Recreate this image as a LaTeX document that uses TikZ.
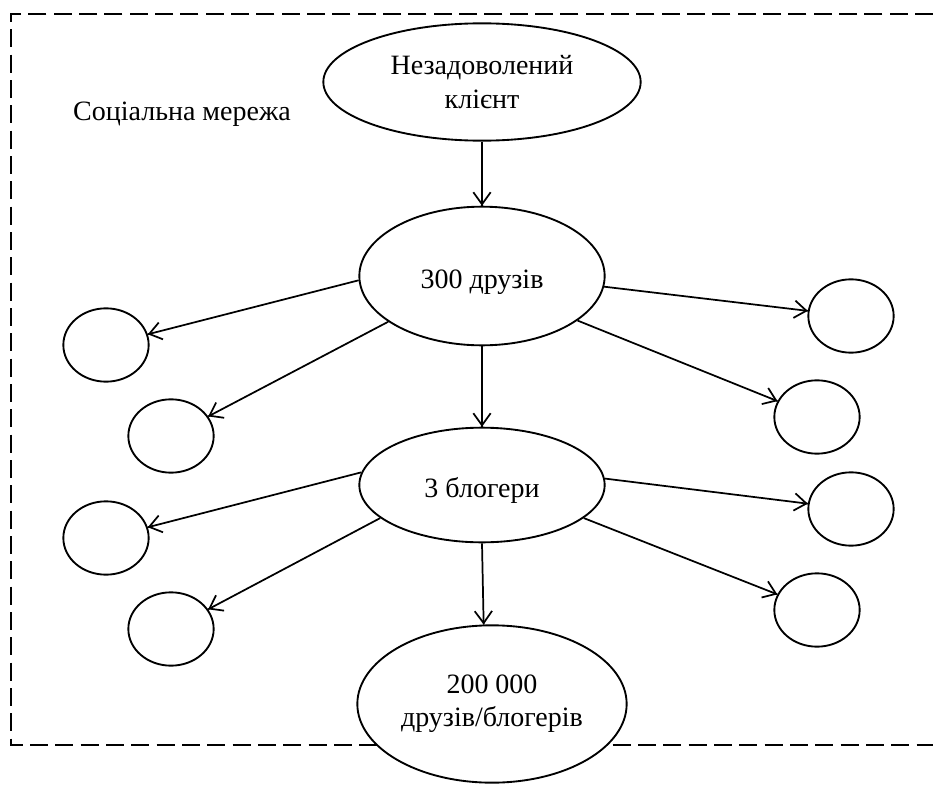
\documentclass[tikz,border=0pt]{standalone}
\usepackage{fontspec}
\setmainfont{Liberation Serif}
\usetikzlibrary{arrows.meta,
                decorations.markings,
                shapes.geometric}

\begin{document}
\begin{tikzpicture}[x=0.75pt, y=-0.75pt,
       decoration = {markings,
                     mark=at position 1 with {\arrow{Straight Barb[length=9pt, width=13pt]}}},
      oval/.style 2 args = {ellipse, draw, fill=white, line width=1.4pt, inner sep=0pt,
                     minimum width=#1, minimum height=#2, align=center,
                     font=\fontsize{21}{25}\selectfont},
      ring/.style = {oval={64pt}{55pt}},
      oneline/.style = {text height=23pt},
every edge/.style = {draw, line width=1.3pt, postaction=decorate}
                        ]
\useasboundingbox (0,0) rectangle (933,785);
\draw[line width=1.4pt, dash pattern=on 13.5pt off 5.5pt]
        (933,14) -- (11,14) -- (11,745) -- (933,745);
\node (net) at (182,114) [font=\fontsize{21}{25}\selectfont] {Соціальна мережа};
\node (cl) at (482,82) [oval={238pt}{88pt}] {Незадоволений\\клієнт};
\node (fr) at (482,276) [oval={184pt}{104pt}, oneline] {300 друзів};
\node (bl) at (482,485) [oval={184pt}{86pt}, oneline] {3 блогери};
\node (all) at (492,704) [oval={202pt}{118pt}] {200 000\\друзів/блогерів};
\node (fl1) at (106,345) [ring] {};
\node (fl2) at (171,436) [ring] {};
\node (fr1) at (851,316) [ring] {};
\node (fr2) at (817,417) [ring] {};
\node (bl1) at (106,538) [ring] {};
\node (bl2) at (171,629) [ring] {};
\node (br1) at (851,509) [ring] {};
\node (br2) at (817,610) [ring] {};

%

\path   (cl) edge (fr)
        (fr) edge (bl)
        (bl.south) edge (all.96)
        (fr.182) edge (fl1)
        (fr.206) edge (fl2)
        (fr.355) edge (fr1)
        (fr.335) edge (fr2)
        (bl.174) edge (bl1)
        (bl.198) edge (bl2)
        (bl.3) edge (br1)
        (bl.342) edge (br2);
    \end{tikzpicture}
\end{document}
